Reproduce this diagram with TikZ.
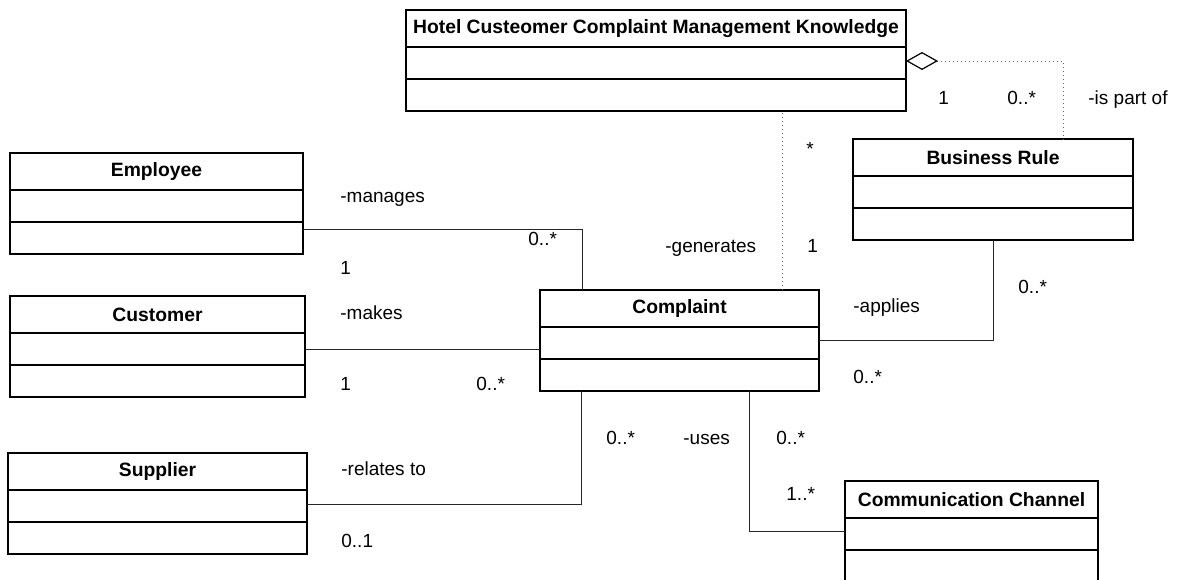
\documentclass[tikz,border=0pt]{standalone}
\usepackage{fontspec}
\setmainfont{Liberation Sans}
\usepackage{tikz}
\usetikzlibrary{positioning,arrows.meta}

\newcommand{\umlclass}[5]{%
  \node[clshead, minimum width=#4*0.5pt] (#1) at (#2,#3) {#5};
  \node[clspart, minimum width=#4*0.5pt, below=0pt of #1] (#1-attr) {};
  \node[clspart, minimum width=#4*0.5pt, below=0pt of #1-attr] (#1-ops) {};
}

\begin{document}
\begin{tikzpicture}[x=0.5pt, y=-0.5pt,
    font=\fontsize{9.5}{11}\selectfont,
    clshead/.style={draw, line width=0.7pt, anchor=north west, outer sep=0pt, inner sep=0pt, minimum height=18.5pt, font=\fontsize{9.65}{11}\selectfont\bfseries},
    clspart/.style={draw, line width=0.7pt, outer sep=0pt, inner sep=0pt, minimum height=16pt},
    assoc/.style={line width=0.45pt, draw=black!85},
    dotline/.style={line width=0.5pt, draw=black!60, dash pattern=on 0.5pt off 1.5pt},
    lbl/.style={anchor=base west, inner sep=0pt}]
                \useasboundingbox (0,0) rectangle (1183,579);
                \umlclass{hotel}{406}{10}{500}{Hotel Custeomer Complaint Management Knowledge}
                \umlclass{employee}{10}{153}{293}{Employee}
                \umlclass{customer}{10}{296}{295}{Customer}
                \umlclass{supplier}{8}{453}{299}{Supplier}
                \umlclass{complaint}{540}{290}{279}{Complaint}
                \umlclass{brule}{853}{139}{280}{Business Rule}
                \umlclass{cchannel}{845}{481}{253}{Communication Channel}

                \draw[assoc] ([yshift=-3.5pt]employee-ops.north east) -| ([xshift=21pt]complaint.north west);
                \draw[assoc] (customer-attr.east) -- (customer-attr.east -| complaint-attr.west);
                \draw[assoc] ([yshift=1pt]supplier-attr.east) -| ([xshift=20.5pt]complaint-ops.south west);
                \draw[assoc] ([xshift=104.5pt]complaint-ops.south west) |- ([yshift=1.5pt]cchannel-attr.west);
                \draw[assoc] ([yshift=1.5pt]complaint-attr.east) -| (brule-ops.south);
                \draw[dotline] ([xshift=121pt]complaint.north west) -- ([xshift=121pt]complaint.north west |- hotel-ops.south);
                \draw[dotline, {Diamond[open, length=16pt, width=9pt, color=black, line width=0.6pt]}-] ([yshift=1pt]hotel-attr.east) -| ([xshift=35pt]brule.north);

                \node[lbl] (l-manages) at (340,202) {-manages};
                \node[lbl] (l-emp1) at (340,274) {1};
                \node[lbl] (l-emp0) at (528,245) {0..*};
                \node[lbl] (l-makes) at (340,319) {-makes};
                \node[lbl] (l-cus1) at (340,390) {1};
                \node[lbl] (l-cus0) at (476,390) {0..*};
                \node[lbl] (l-relates) at (341,475) {-relates to};
                \node[lbl] (l-sup1) at (341,547) {0..1};
                \node[lbl] (l-sup0) at (606,444) {0..*};
                \node[lbl] (l-uses) at (683,444) {-uses};
                \node[lbl] (l-cc0) at (776,444) {0..*};
                \node[lbl] (l-cc1) at (786,500) {1..*};
                \node[lbl] (l-applies) at (853,312) {-applies};
                \node[lbl] (l-app0) at (853,383) {0..*};
                \node[lbl] (l-br0) at (1018,293) {0..*};
                \node[lbl] (l-generates) at (665,252) {-generates};
                \node[lbl] (l-gen1) at (807,252) {1};
                \node[lbl] (l-genstar) at (806,155) {*};
                \node[lbl] (l-part1) at (938,104) {1};
                \node[lbl] (l-part0) at (1007,104) {0..*};
                \node[lbl] (l-ispart) at (1088,104) {-is part of};
            \end{tikzpicture}
\end{document}
